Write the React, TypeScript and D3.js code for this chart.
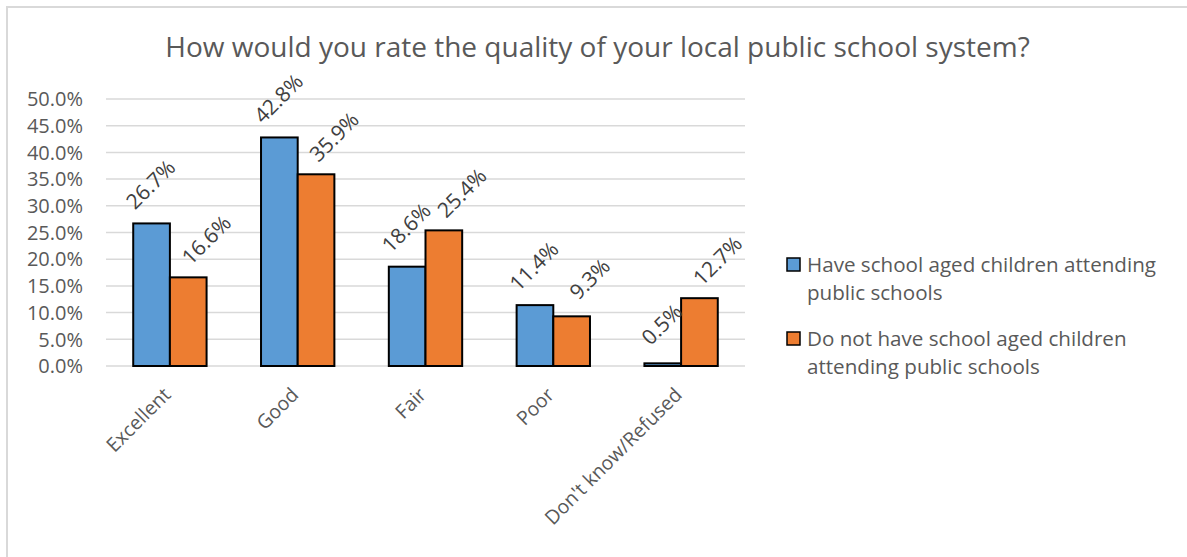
import React from "react";
import * as d3 from "d3";

const categories = ["Excellent", "Good", "Fair", "Poor", "Don't know/Refused"];
const seriesNames = [
  "Have school aged children attending public schools",
  "Do not have school aged children attending public schools",
];
const haveChildren = [0.267, 0.428, 0.186, 0.114, 0.005];
const noChildren = [0.166, 0.359, 0.254, 0.093, 0.127];
const yTicks = [0, 0.05, 0.1, 0.15, 0.2, 0.25, 0.3, 0.35, 0.4, 0.45, 0.5];
const legendLines = [
  ["Have school aged children attending", "public schools"],
  ["Do not have school aged children", "attending public schools"],
];
const title = "How would you rate the quality of your local public school system?";

const W = 1187;
const H = 557;
const FONT = "'Open Sans', sans-serif";
const colors = ["#5B9BD5", "#ED7D31"];
const labelOffsets = [
  { dx: -1, dy: -39 },
  { dx: 18, dy: -37.5 },
];

export default function App() {
  const plot = { left: 106, right: 745, top: 99, bottom: 366 };
  const x = d3
    .scaleBand<string>()
    .domain(categories)
    .range([plot.left, plot.right])
    .paddingInner(0.426)
    .paddingOuter(0.213);
  const xs = d3
    .scaleBand<string>()
    .domain(["0", "1"])
    .range([0, x.bandwidth()]);
  const y = d3.scaleLinear().domain([0, 0.5]).range([plot.bottom, plot.top]);
  const fmt = d3.format(".1%");
  const series = [haveChildren, noChildren];

  return (
    <svg
      width={W}
      height={H}
      style={{ position: "absolute", left: 0, top: 0, background: "#fff" }}
      fontFamily={FONT}
    >
      <rect x={7} y={7} width={W + 20} height={H + 20} fill="#fff" stroke="#d9d9d9" strokeWidth={2} />
      <text x={597.5} y={57} textAnchor="middle" fontSize={28} fill="#595959">
        {title}
      </text>
      {yTicks.map((t) => (
        <g key={t}>
          <line x1={plot.left} x2={plot.right} y1={y(t)} y2={y(t)} stroke="#d9d9d9" strokeWidth={1.5} />
          <text x={83} y={y(t)} dy="0.36em" textAnchor="end" fontSize={20} fill="#595959">
            {fmt(t)}
          </text>
        </g>
      ))}
      {series.map((vals, si) => (
        <g key={si}>
          {vals.map((v, i) => {
            const bx = (x(categories[i]) as number) + (xs(String(si)) as number);
            const bw = xs.bandwidth();
            return (
              <rect
                key={i}
                x={bx}
                y={y(v)}
                width={bw}
                height={plot.bottom - y(v)}
                fill={colors[si]}
                stroke="#000"
                strokeWidth={2}
              />
            );
          })}
        </g>
      ))}
      {series.map((vals, si) => (
        <g key={"l" + si}>
          {vals.map((v, i) => {
            const cx =
              (x(categories[i]) as number) + (xs(String(si)) as number) + xs.bandwidth() / 2 + labelOffsets[si].dx;
            const cy = y(v) + labelOffsets[si].dy;
            return (
              <text
                key={i}
                transform={`translate(${cx},${cy}) rotate(-45)`}
                textAnchor="middle"
                dy="0.36em"
                fontSize={21}
                fill="#404040"
              >
                {fmt(v)}
              </text>
            );
          })}
        </g>
      ))}
      {categories.map((c) => {
        const cx = (x(c) as number) + x.bandwidth() / 2;
        return (
          <text
            key={c}
            transform={`translate(${cx + 2},396) rotate(-45)`}
            textAnchor="end"
            fontSize={19.5}
            fill="#595959"
          >
            {c}
          </text>
        );
      })}
      {seriesNames.map((name, si) => {
        const top = si === 0 ? 258 : 332;
        return (
          <g key={name}>
            <rect x={787} y={top} width={13} height={13} fill={colors[si]} stroke="#000" strokeWidth={1.5} />
            {legendLines[si].map((ln, li) => (
              <text key={li} x={807} y={top + 14 + li * 28} fontSize={20.6} fill="#595959">
                {ln}
              </text>
            ))}
          </g>
        );
      })}
    </svg>
  );
}
